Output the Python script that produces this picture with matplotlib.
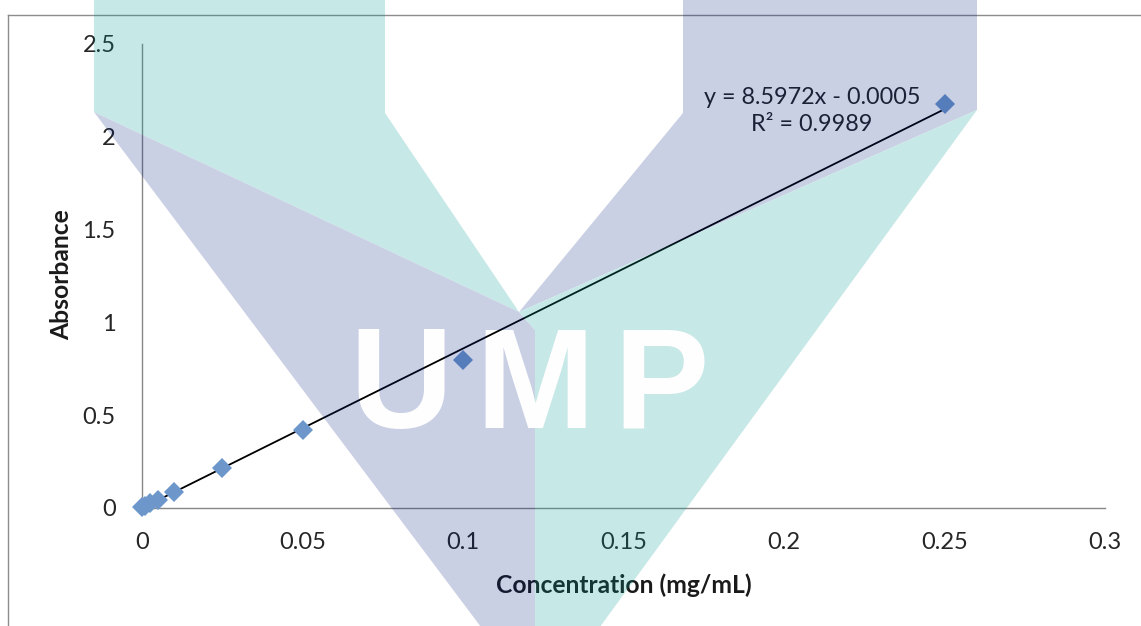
import numpy as np
import matplotlib
matplotlib.use('Agg')
import matplotlib.pyplot as plt
from matplotlib.patches import Polygon
from matplotlib.lines import Line2D

plt.rcParams['font.family'] = ['Lato', 'DejaVu Sans']

# data
conc = [0, 0.001, 0.0025, 0.005, 0.01, 0.025, 0.05, 0.1, 0.25]
absorb = [0.005, 0.012, 0.025, 0.045, 0.088, 0.218, 0.42, 0.797, 2.177]
trend_slope = 8.5972
trend_intercept = -0.0005
r_squared = 0.9989

x_ticks = [0, 0.05, 0.1, 0.15, 0.2, 0.25, 0.3]
x_ticklabels = ['0', '0.05', '0.1', '0.15', '0.2', '0.25', '0.3']
y_ticks = [0, 0.5, 1, 1.5, 2, 2.5]
y_ticklabels = ['0', '0.5', '1', '1.5', '2', '2.5']

W, H = 1141, 626
TEAL = '#c5e9e7'
LAV = '#c9d0e5'


## watermark (UMP logo), drawn off screen then laid over the chart ##
def make_watermark():
    wf = plt.figure(figsize=(W / 100, H / 100), dpi=100, facecolor='white')
    wx = wf.add_axes([0, 0, 1, 1])
    wx.set_xlim(0, W)
    wx.set_ylim(H, 0)
    wx.axis('off')
    shapes = [
        ([(94, -5), (385, -5), (385, 113), (519, 312), (94, 112)], TEAL),
        ([(94, 112), (519, 312), (535, 330), (535, H + 5), (484, H + 5)], LAV),
        ([(683, -5), (977, -5), (977, 110), (519, 312), (683, 113)], LAV),
        ([(519, 312), (977, 110), (597, H + 5), (535, H + 5), (535, 330)], TEAL),
    ]
    for pts, col in shapes:
        wx.add_patch(Polygon(pts, closed=True, facecolor=col, edgecolor='none'))
    for ch, cx in zip('UMP', [401, 535, 661]):
        wx.text(cx, 428, ch, ha='center', va='baseline', color='#fdfdfe',
                fontsize=103, fontweight='bold', family='Liberation Sans')
    wf.canvas.draw()
    img = np.asarray(wf.canvas.buffer_rgba())[:, :, :3].astype(float) / 255
    plt.close(wf)
    d = 1 - img
    alpha = d.max(axis=2)
    safe = np.where(alpha > 0, alpha, 1)
    rgb = np.clip(1 - d / safe[:, :, None], 0, 1)
    return np.dstack([rgb, alpha])


fig = plt.figure(figsize=(W / 100, H / 100), dpi=100, facecolor='white')
ax = fig.add_axes([142 / W, 1 - 508 / H, 963 / W, 464 / H])

ax.plot(conc, absorb, linestyle='none', marker='D', markersize=10.5,
        color='#6d96cb', markeredgewidth=0, clip_on=False, zorder=3)

xs = np.array([conc[0], conc[-1]])
ax.plot(xs, trend_slope * xs + trend_intercept, color='black', lw=1.3, zorder=2)

ax.text(0.2087, 2.139, 'y = %.4fx - %.4f\nR\u00b2 = %.4f' % (trend_slope, -trend_intercept, r_squared),
        ha='center', va='center', fontsize=16.8, color='#222222', linespacing=1.3)

ax.set_xlim(0, 0.3)
ax.set_ylim(0, 2.5)
ax.set_xticks(x_ticks)
ax.set_xticklabels(x_ticklabels)
ax.set_yticks(y_ticks)
ax.set_yticklabels(y_ticklabels)
ax.tick_params(length=0, labelsize=17, labelcolor='#262626')
ax.tick_params(axis='y', pad=19)
ax.tick_params(axis='x', pad=17)
for s in ['top', 'right']:
    ax.spines[s].set_visible(False)
for s in ['left', 'bottom']:
    ax.spines[s].set_color('#868686')
    ax.spines[s].set_linewidth(1)
ax.patch.set_alpha(0)

ax.set_xlabel('Concentration (mg/mL)', fontsize=17.7, fontweight='bold', color='#1a1a1a')
ax.set_ylabel('Absorbance', fontsize=17.7, fontweight='bold', color='#1a1a1a')
ax.xaxis.set_label_coords(0.5, -0.14)
ax.yaxis.set_label_coords(-0.072, 0.502)

# chart area border (cut off at right and bottom)
fig.add_artist(Line2D([8 / W, 1], [1 - 15 / H, 1 - 15 / H], color='#8c8c8c', lw=1))
fig.add_artist(Line2D([8 / W, 8 / W], [0, 1 - 15 / H], color='#8c8c8c', lw=1))

wm = make_watermark()
ox = fig.add_axes([0, 0, 1, 1], zorder=10)
ox.imshow(wm, interpolation='nearest', aspect='auto')
ox.axis('off')

fig.savefig('out.png', dpi=100)
